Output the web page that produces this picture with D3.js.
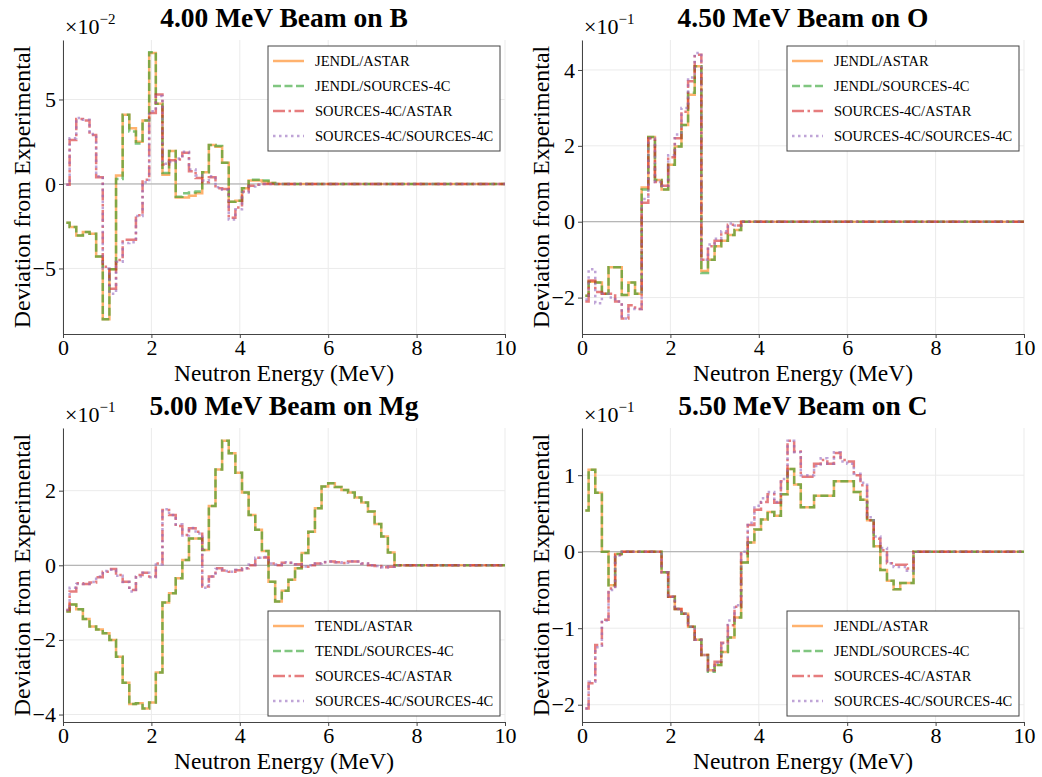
<!DOCTYPE html>
<html>
<head>
<meta charset="utf-8">
<script src="https://cdn.jsdelivr.net/npm/d3@7"></script>
<style>
  body { margin: 0; background: #fff; }
  svg text { font-family: "Liberation Serif", "Times New Roman", serif; fill: #000; }
</style>
</head>
<body>
<svg id="fig" width="1042" height="777"></svg>
<script>
////////////////////////////////////////////////////////////
//////////////////////// Data //////////////////////////////
////////////////////////////////////////////////////////////

// Bin centres (MeV), 0.15 MeV wide bins; everything after the last value is zero up to 10 MeV
var energy = [0.075, 0.225, 0.375, 0.525, 0.675, 0.825, 0.975, 1.125, 1.275, 1.425,
  1.575, 1.725, 1.875, 2.025, 2.175, 2.325, 2.475, 2.625, 2.775, 2.925,
  3.075, 3.225, 3.375, 3.525, 3.675, 3.825, 3.975, 4.125, 4.275, 4.425,
  4.575, 4.725, 4.875, 5.025, 5.175, 5.325, 5.475, 5.625, 5.775, 5.925,
  6.075, 6.225, 6.375, 6.525, 6.675, 6.825, 6.975, 7.125, 7.275, 7.425, 7.575];

var xTicks = [0, 2, 4, 6, 8, 10];

// 4.00 MeV beam on B  (x 1e-2)
var bJendlAstar = [-2.3, -2.55, -3.05, -2.85, -2.95, -4.3, -8.0, -5.05, 0.5, 4.1, 3.3, 2.5, 3.75, 7.75, 4.75, 0.55,
  1.95, -0.8, -0.8, -0.7, -0.55, 0.7, 2.3, 2.2, 1.25, -1.05, -1.0, -0.25, 0.2, 0.2, 0.15, 0.05, 0];
var bJendlSources = [-2.3, -2.55, -3.05, -2.85, -2.95, -4.3, -8.0, -5.05, 0.3, 4.1, 3.1, 2.4, 3.75, 7.8, 4.75, 0.65,
  1.95, -0.75, -0.55, -0.5, -0.45, 0.7, 2.3, 2.25, 1.25, -1.05, -1.0, -0.25, 0.25, 0.25, 0.2, 0.05, 0];
var bSourcesAstar = [-0.05, 2.6, 3.85, 3.75, 2.9, 0.4, -4.9, -6.2, -4.5, -3.3, -3.3, -1.85, 0.25, 4.2, 5.3, 1.15,
  1.4, 1.45, 1.85, 0.75, 0.35, 0.1, 0.4, -0.25, -0.3, -2.0, -1.4, -0.45, -0.1, -0.05, 0];
var bSourcesSources = [-0.05, 2.7, 3.9, 3.8, 2.95, 0.45, -5.0, -6.5, -4.6, -3.5, -3.45, -1.9, 0.1, 4.3, 5.2, 1.2,
  1.3, 1.5, 1.9, 0.85, 0.5, 0.2, 0.45, -0.2, -0.35, -2.1, -1.5, -0.5, -0.15, -0.05, 0];
var bTicks = [-5, 0, 5];

// 4.50 MeV beam on O  (x 1e-1)
var oJendlAstar = [-1.95, -1.58, -1.6, -1.9, -1.2, -1.2, -1.93, -1.6, -1.9, 0.9, 2.23, 1.1, 0.85,
  1.5, 1.98, 2.55, 3.35, 4.1, -1.3, -1.0, -0.65, -0.5, -0.35, -0.22, 0];
var oJendlSources = [-1.95, -1.58, -1.6, -1.9, -1.2, -1.2, -1.93, -1.6, -1.9, 0.85, 2.23, 1.1, 0.85,
  1.5, 1.98, 2.55, 3.4, 4.1, -1.35, -1.0, -0.65, -0.5, -0.35, -0.22, 0];
var oSourcesAstar = [-2.1, -1.55, -1.85, -1.9, -1.9, -2.1, -2.55, -2.2, -2.3, 0.5, 2.2, 1.05, 0.95,
  1.7, 2.2, 2.9, 3.7, 4.4, -1.0, -0.65, -0.5, -0.3, -0.08, -0.1, 0];
var oSourcesSources = [-2.05, -1.25, -2.15, -1.9, -2.0, -2.1, -2.55, -2.3, -2.3, 0.6, 2.2, 1.05, 0.95,
  1.75, 2.3, 3.0, 3.8, 4.45, -1.0, -0.6, -0.45, -0.25, -0.05, -0.1, 0];
var oTicks = [-2, 0, 2, 4];

// 5.00 MeV beam on Mg  (x 1e-1)
var mgTendlAstar = [-1.24, -1.05, -1.18, -1.44, -1.64, -1.72, -1.82, -2.0, -2.45, -3.15, -3.72, -3.7, -3.84,
  -3.68, -2.87, -1.0, -0.75, -0.35, 0.14, 0.72, 0.72, 0.41, 1.59, 2.57, 3.34, 3.0, 2.48, 1.95, 1.35,
  0.95, 0.38, -0.44, -0.97, -0.68, -0.39, -0.08, 0.33, 0.9, 1.53, 2.11, 2.2, 2.1, 2.02, 1.95, 1.82,
  1.68, 1.44, 1.11, 0.77, 0.34, 0];
var mgTendlSources = [-1.24, -1.05, -1.18, -1.44, -1.64, -1.72, -1.82, -2.0, -2.45, -3.15, -3.72, -3.7, -3.84,
  -3.68, -2.87, -1.0, -0.75, -0.35, 0.14, 0.72, 0.72, 0.41, 1.59, 2.57, 3.34, 3.0, 2.48, 1.95, 1.35,
  0.95, 0.38, -0.44, -0.97, -0.68, -0.39, -0.08, 0.33, 0.9, 1.53, 2.11, 2.2, 2.1, 2.02, 1.95, 1.82,
  1.68, 1.44, 1.11, 0.77, 0.34, 0];
var mgSourcesAstar = [-1.2, -0.7, -0.48, -0.5, -0.46, -0.32, -0.17, -0.1, -0.26, -0.44, -0.66, -0.26, -0.2,
  -0.3, 0.05, 1.48, 1.35, 1.05, 0.81, 0.99, 0.9, -0.57, -0.3, -0.08, -0.14, -0.17, -0.13, -0.08, 0.0,
  0.2, 0.21, 0.05, 0.0, 0.07, 0.07, 0.03, -0.04, 0.0, 0.05, 0.08, 0.1, 0.08, 0.06, 0.1, 0.1,
  0.05, 0.0, -0.02, -0.05, -0.04, 0];
var mgSourcesSources = [-1.2, -0.6, -0.5, -0.5, -0.45, -0.3, -0.15, -0.12, -0.28, -0.45, -0.7, -0.3, -0.2,
  -0.32, 0.02, 1.5, 1.35, 1.1, 0.8, 1.0, 0.85, -0.6, -0.3, -0.1, -0.15, -0.17, -0.12, -0.08, 0.02,
  0.2, 0.22, 0.05, 0.02, 0.08, 0.07, 0.03, -0.03, 0.0, 0.05, 0.09, 0.1, 0.08, 0.07, 0.11, 0.1,
  0.05, 0.0, -0.02, -0.05, -0.04, 0];
var mgTicks = [-4, -2, 0, 2];

// 5.50 MeV beam on C  (x 1e-1)
var cJendlAstar = [0.54, 1.07, 0.77, 0.0, -0.44, -0.03, 0, 0, 0, 0, 0, 0, -0.27, -0.59, -0.75, -0.81,
  -0.98, -1.15, -1.35, -1.55, -1.48, -1.31, -1.12, -0.86, -0.14, 0.12, 0.29, 0.42, 0.52, 0.47, 0.75,
  1.08, 0.88, 0.58, 0.58, 0.73, 0.73, 0.73, 0.92, 0.92, 0.92, 0.78, 0.68, 0.41, 0.07, -0.24, -0.38,
  -0.49, -0.41, -0.41, 0];
var cJendlSources = [0.54, 1.07, 0.77, 0.0, -0.44, -0.03, 0, 0, 0, 0, 0, 0, -0.27, -0.59, -0.75, -0.81,
  -0.98, -1.15, -1.35, -1.57, -1.48, -1.31, -1.12, -0.86, -0.14, 0.12, 0.29, 0.42, 0.52, 0.47, 0.75,
  1.08, 0.88, 0.58, 0.58, 0.73, 0.73, 0.73, 0.92, 0.92, 0.92, 0.78, 0.68, 0.41, 0.07, -0.24, -0.38,
  -0.49, -0.41, -0.41, 0];
var cSourcesAstar = [-2.05, -1.72, -1.22, -0.89, -0.48, -0.04, 0, 0, 0, 0, 0, 0, -0.27, -0.59, -0.75, -0.81,
  -0.98, -1.15, -1.35, -1.55, -1.44, -1.19, -0.96, -0.72, -0.02, 0.35, 0.55, 0.65, 0.75, 0.64, 0.92,
  1.45, 1.31, 0.98, 0.98, 1.15, 1.2, 1.15, 1.29, 1.2, 1.18, 1.0, 0.87, 0.41, 0.17, 0.02, -0.15,
  -0.17, -0.17, -0.22, 0];
var cSourcesSources = [-2.05, -1.7, -1.25, -0.9, -0.5, -0.05, 0, 0, 0, 0, 0, 0, -0.27, -0.59, -0.75, -0.81,
  -0.98, -1.15, -1.35, -1.55, -1.45, -1.2, -0.9, -0.7, 0.0, 0.38, 0.6, 0.7, 0.78, 0.65, 0.95,
  1.45, 1.3, 1.0, 1.0, 1.12, 1.22, 1.15, 1.3, 1.18, 1.15, 1.02, 0.9, 0.45, 0.2, 0.05, -0.15,
  -0.2, -0.2, -0.25, 0];
var cTicks = [-2, -1, 0, 1];

var jendlLabels = ["JENDL/ASTAR", "JENDL/SOURCES-4C", "SOURCES-4C/ASTAR", "SOURCES-4C/SOURCES-4C"];
var tendlLabels = ["TENDL/ASTAR", "TENDL/SOURCES-4C", "SOURCES-4C/ASTAR", "SOURCES-4C/SOURCES-4C"];

////////////////////////////////////////////////////////////
//////////////////////// Setup /////////////////////////////
////////////////////////////////////////////////////////////

var lineStyles = [
  {color: "#ff7f0e", dash: null},
  {color: "#2ca02c", dash: "8,3.5"},
  {color: "#d62728", dash: "12,3.5,2.5,3.5"},
  {color: "#9467bd", dash: "2.5,3.5"}
];

var panelW = 442, panelH = 294;

var panels = [
  {title: "4.00 MeV Beam on B", exp: "\u22122", left: 63, top: 40, yDomain: [-8.88, 8.52], yTicks: bTicks,
   labels: jendlLabels, legendTop: true, series: [bJendlAstar, bJendlSources, bSourcesAstar, bSourcesSources]},
  {title: "4.50 MeV Beam on O", exp: "\u22121", left: 582, top: 40, yDomain: [-2.96, 4.79], yTicks: oTicks,
   labels: jendlLabels, legendTop: true, series: [oJendlAstar, oJendlSources, oSourcesAstar, oSourcesSources]},
  {title: "5.00 MeV Beam on Mg", exp: "\u22121", left: 63, top: 428, yDomain: [-4.2, 3.68], yTicks: mgTicks,
   labels: tendlLabels, legendTop: false, series: [mgTendlAstar, mgTendlSources, mgSourcesAstar, mgSourcesSources]},
  {title: "5.50 MeV Beam on C", exp: "\u22121", left: 582, top: 428, yDomain: [-2.226, 1.617], yTicks: cTicks,
   labels: jendlLabels, legendTop: false, series: [cJendlAstar, cJendlSources, cSourcesAstar, cSourcesSources]}
];

var svg = d3.select("#fig");

panels.forEach(function(p) {
  var g = svg.append("g").attr("transform", "translate(" + p.left + "," + p.top + ")");

  var x = d3.scaleLinear().domain([0, 10]).range([0, panelW]);
  var y = d3.scaleLinear().domain(p.yDomain).range([panelH, 0]);

  //Grid
  g.append("g").selectAll("line.vgrid")
    .data(xTicks).enter().append("line")
    .attr("x1", function(d) { return x(d); }).attr("x2", function(d) { return x(d); })
    .attr("y1", 0).attr("y2", panelH)
    .style("stroke", "#ebebeb").style("stroke-width", 1);
  g.append("g").selectAll("line.hgrid")
    .data(p.yTicks).enter().append("line")
    .attr("x1", 0).attr("x2", panelW)
    .attr("y1", function(d) { return y(d); }).attr("y2", function(d) { return y(d); })
    .style("stroke", "#ebebeb").style("stroke-width", 1);

  //Zero line
  g.append("line")
    .attr("x1", 0).attr("x2", panelW)
    .attr("y1", y(0)).attr("y2", y(0))
    .style("stroke", "#a8a8a8").style("stroke-width", 1);

  //Step lines
  var line = d3.line()
    .x(function(d) { return x(d[0]); })
    .y(function(d) { return y(d[1]); })
    .curve(d3.curveStep);

  p.series.forEach(function(vals, si) {
    var pts = vals.map(function(v, i) { return [energy[i], v]; });
    pts.push([10, 0]);
    g.append("path")
      .datum(pts)
      .attr("d", line)
      .style("fill", "none")
      .style("stroke", lineStyles[si].color)
      .style("stroke-opacity", 0.6)
      .style("stroke-width", 2.5)
      .style("stroke-dasharray", lineStyles[si].dash);
  });

  //Axes
  var xAxis = g.append("g")
    .attr("transform", "translate(0," + panelH + ")")
    .call(d3.axisBottom(x).tickValues(xTicks).tickSize(4).tickSizeOuter(0).tickPadding(1));
  var yAxis = g.append("g")
    .call(d3.axisLeft(y).tickValues(p.yTicks).tickSize(4).tickSizeOuter(0).tickPadding(3)
      .tickFormat(d3.format("d")));
  [xAxis, yAxis].forEach(function(a) {
    a.select(".domain").style("stroke", "#444");
    a.selectAll(".tick line").style("stroke", "#444");
    a.selectAll(".tick text").style("font-size", "22px")
      .style("font-family", "'Liberation Serif', serif").attr("fill", "#000");
  });

  //Axis labels
  g.append("text")
    .attr("x", panelW / 2)
    .attr("y", panelH + 47)
    .style("text-anchor", "middle")
    .style("font-size", "23.5px")
    .text("Neutron Energy (MeV)");
  g.append("text")
    .attr("transform", "translate(-33," + (panelH / 2) + ") rotate(-90)")
    .style("text-anchor", "middle")
    .style("font-size", "24px")
    .text("Deviation from Experimental");

  //Title
  g.append("text")
    .attr("x", panelW / 2)
    .attr("y", -13)
    .style("text-anchor", "middle")
    .style("font-size", "27.5px")
    .style("font-weight", "bold")
    .text(p.title);

  //Offset multiplier
  var mult = g.append("text")
    .attr("x", 2)
    .attr("y", -6)
    .style("font-size", "22px");
  mult.append("tspan").text("\u00d710");
  mult.append("tspan").attr("dy", -10).style("font-size", "15px").text(p.exp);

  //Legend
  var lw = 232, lh = 105;
  var lx = panelW - 5 - lw,
      ly = p.legendTop ? 6 : panelH - 6 - lh;
  var legend = g.append("g").attr("transform", "translate(" + lx + "," + ly + ")");
  legend.append("rect")
    .attr("width", lw).attr("height", lh)
    .style("fill", "#fff").style("stroke", "#444").style("stroke-width", 1);
  var item = legend.selectAll(".legendItem")
    .data(p.labels).enter().append("g")
    .attr("class", "legendItem")
    .attr("transform", function(d, i) { return "translate(0," + (15 + i * 25) + ")"; });
  item.append("line")
    .attr("x1", 5).attr("x2", 36)
    .style("stroke", function(d, i) { return lineStyles[i].color; })
    .style("stroke-opacity", 0.6)
    .style("stroke-width", 2.5)
    .style("stroke-dasharray", function(d, i) { return lineStyles[i].dash; });
  item.append("text")
    .attr("x", 47)
    .attr("y", 5)
    .style("font-size", "14.5px")
    .text(function(d) { return d; });
});
</script>
</body>
</html>
